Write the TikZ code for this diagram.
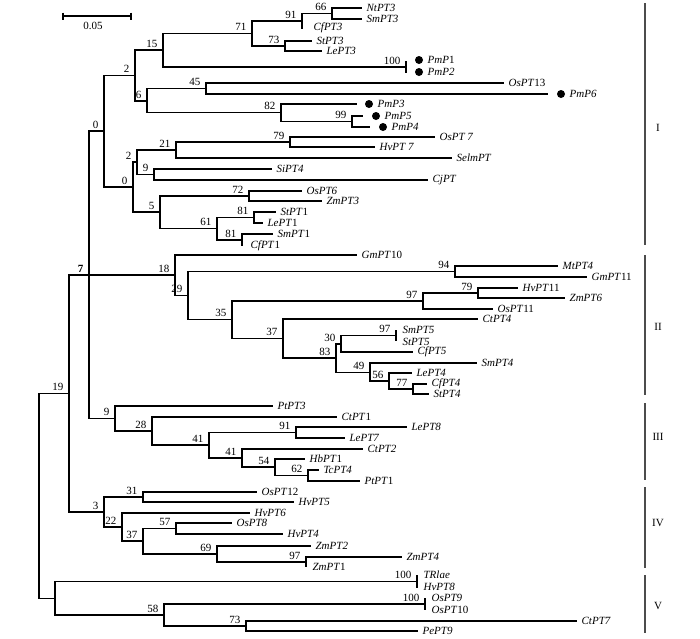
\documentclass[tikz,border=0pt]{standalone}
\usepackage{fontspec}
\setmainfont{Liberation Serif}
\begin{document}
\begin{tikzpicture}[x=1pt,y=-1pt,line width=1.25pt]
\tikzstyle{every node}=[font=\fontsize{11}{12}\selectfont]
\tikzstyle{taxon}=[anchor=west, inner xsep=4pt, inner ysep=0pt]
\tikzstyle{boot}=[anchor=south east, inner sep=1pt, xshift=-4pt, yshift=1pt]
\tikzstyle{pm}=[circle, fill=black, inner sep=0pt, minimum size=8pt]
\tikzstyle{bar}=[draw=black!70, line width=1.6pt]

\useasboundingbox (0,0) rectangle (700,638);

% scale bar
\coordinate (sa) at (63,16);
\coordinate (sb) at (131,16);
\draw (sa) -- (sb);
\draw ([yshift=3.5pt]sa) -- ([yshift=-3.5pt]sa);
\draw ([yshift=3.5pt]sb) -- ([yshift=-3.5pt]sb);
\node (scale) at (93,26) {0.05};

% inner vertices and bootstrap values
\coordinate (root) at (39,496);
\coordinate (nV) at (55,598.5);
\coordinate (n19) at (69,393.5);   \node[boot] (l19) at (n19) {19};
\coordinate (n7) at (89,275);      \node[boot] (l7) at (n7) {\textbf{7}};
\coordinate (n0a) at (104,131);    \node[boot] (l0a) at (n0a) {0};
\coordinate (n2a) at (135,75.5);   \node[boot] (l2a) at (n2a) {2};
\coordinate (n15) at (163,50);     \node[boot] (l15) at (n15) {15};
\coordinate (n71) at (252,33.5);   \node[boot] (l71) at (n71) {71};
\coordinate (n91a) at (302,21);    \node[boot] (l91a) at (n91a) {91};
\coordinate (n66) at (332,13.5);   \node[boot] (l66) at (n66) {66};
\coordinate (n73a) at (285,46);    \node[boot] (l73a) at (n73a) {73};
\coordinate (n100a) at (406,67);   \node[boot] (l100a) at (n100a) {100};
\coordinate (n6) at (147,101);     \node[boot] (l6) at (n6) {6};
\coordinate (n45) at (206,88.5);   \node[boot] (l45) at (n45) {45};
\coordinate (n82) at (281,112.5);  \node[boot] (l82) at (n82) {82};
\coordinate (n99) at (352,121.5);  \node[boot] (l99) at (n99) {99};
\coordinate (n0b) at (133,187);    \node[boot] (l0b) at (n0b) {0};
\coordinate (n2b) at (137,162);    \node[boot] (l2b) at (n2b) {2};
\coordinate (n21) at (176,150);    \node[boot] (l21) at (n21) {21};
\coordinate (n79a) at (290,142);   \node[boot] (l79a) at (n79a) {79};
\coordinate (n9a) at (154,174.5);  \node[boot] (l9a) at (n9a) {9};
\coordinate (n5) at (160,212);     \node[boot] (l5) at (n5) {5};
\coordinate (n72) at (249,196);    \node[boot] (l72) at (n72) {72};
\coordinate (n61) at (217,228.5);  \node[boot] (l61) at (n61) {61};
\coordinate (n81a) at (254,217.5); \node[boot] (l81a) at (n81a) {81};
\coordinate (n81b) at (242,240);   \node[boot] (l81b) at (n81b) {81};
\coordinate (n18) at (175,275);    \node[boot] (l18) at (n18) {18};
\coordinate (n29) at (188,295.5);  \node[boot] (l29) at (n29) {29};
\coordinate (n94) at (455,271.5);  \node[boot] (l94) at (n94) {94};
\coordinate (n35) at (232,319.5);  \node[boot] (l35) at (n35) {35};
\coordinate (n97a) at (423,301);   \node[boot] (l97a) at (n97a) {97};
\coordinate (n79b) at (478,293);   \node[boot] (l79b) at (n79b) {79};
\coordinate (n37a) at (283,338.5); \node[boot] (l37a) at (n37a) {37};
\coordinate (n83) at (336,358);    \node[boot] (l83) at (n83) {83};
\coordinate (n30) at (341,344);    \node[boot] (l30) at (n30) {30};
\coordinate (n97b) at (396,335.5); \node[boot] (l97b) at (n97b) {97};
\coordinate (n49) at (370,372.5);  \node[boot] (l49) at (n49) {49};
\coordinate (n56) at (389,381);    \node[boot] (l56) at (n56) {56};
\coordinate (n77) at (413,389);    \node[boot] (l77) at (n77) {77};
\coordinate (n9c) at (115,418.5);  \node[boot] (l9c) at (n9c) {9};
\coordinate (n28) at (152,431);    \node[boot] (l28) at (n28) {28};
\coordinate (n41a) at (209,445);   \node[boot] (l41a) at (n41a) {41};
\coordinate (n91b) at (296,432.5); \node[boot] (l91b) at (n91b) {91};
\coordinate (n41b) at (242,458);   \node[boot] (l41b) at (n41b) {41};
\coordinate (n54) at (275,467);    \node[boot] (l54) at (n54) {54};
\coordinate (n62) at (308,475.5);  \node[boot] (l62) at (n62) {62};
\coordinate (n3) at (104,512);     \node[boot] (l3) at (n3) {3};
\coordinate (n31) at (143,497);    \node[boot] (l31) at (n31) {31};
\coordinate (n22) at (122,527);    \node[boot] (l22) at (n22) {22};
\coordinate (n37b) at (143,541);   \node[boot] (l37b) at (n37b) {37};
\coordinate (n57) at (176,528.5);  \node[boot] (l57) at (n57) {57};
\coordinate (n69) at (217,554);    \node[boot] (l69) at (n69) {69};
\coordinate (n97c) at (306,562);   \node[boot] (l97c) at (n97c) {97};
\coordinate (n100c) at (417,581.5); \node[boot] (l100c) at (n100c) {100};
\coordinate (n58) at (164,615);    \node[boot] (l58) at (n58) {58};
\coordinate (n100d) at (425,604);  \node[boot] (l100d) at (n100d) {100};
\coordinate (n73b) at (246,626);   \node[boot] (l73b) at (n73b) {73};

% zero length tips
\coordinate (tCfPT3) at (302,29);
\coordinate (tPmP1) at (406,61);
\coordinate (tPmP2) at (406,73);
\coordinate (tCfPT1) at (242,246);
\coordinate (tSmPT5) at (396,330);
\coordinate (tStPT5) at (396,341);
\coordinate (tZmPT1) at (306,567);
\coordinate (tTRlae) at (417,575);
\coordinate (tHvPT8) at (417,588);
\coordinate (tOsPT9) at (425,598);
\coordinate (tOsPT10) at (425,610);
\coordinate (ePmP6) at (548,94);
\coordinate (ePmP3) at (357,104);
\coordinate (ePmP5) at (363,116);
\coordinate (ePmP4) at (370,127);

% taxa, group I
\node[taxon] (NtPT3) at (362,8) {\textit{NtPT3}};
\node[taxon] (SmPT3) at (362,19) {\textit{SmPT3}};
\node[taxon] (CfPT3) at (309,28) {\textit{CfPT3}};
\node[taxon] (StPT3) at (312,41) {\textit{StPT3}};
\node[taxon] (LePT3) at (322,51) {\textit{LePT3}};
\node[pm] (dPmP1) at (419,60) {};
\node[taxon] (PmP1) at (423,60) {\textit{PmP}1};
\node[pm] (dPmP2) at (419,72) {};
\node[taxon] (PmP2) at (423,72) {\textit{PmP2}};
\node[taxon] (OsPT13) at (504,83) {\textit{OsPT}13};
\node[pm] (dPmP6) at (561,94) {};
\node[taxon] (PmP6) at (565,94) {\textit{PmP6}};
\node[pm] (dPmP3) at (369,104) {};
\node[taxon] (PmP3) at (373,104) {\textit{PmP3}};
\node[pm] (dPmP5) at (376,116) {};
\node[taxon] (PmP5) at (380,116) {\textit{PmP5}};
\node[pm] (dPmP4) at (383,127) {};
\node[taxon] (PmP4) at (387,127) {\textit{PmP4}};
\node[taxon] (OsPT7) at (435,137) {\textit{OsPT 7}};
\node[taxon] (HvPT7) at (375,147) {\textit{HvPT 7}};
\node[taxon] (SelmPT) at (452,158) {\textit{SelmPT}};
\node[taxon] (SiPT4) at (272,169) {\textit{SiPT4}};
\node[taxon] (CjPT) at (428,180) {\textit{CjPT}};
\node[taxon] (OsPT6) at (302,191) {\textit{OsPT6}};
\node[taxon] (ZmPT3) at (322,201) {\textit{ZmPT3}};
\node[taxon] (StPT1) at (276,212) {\textit{StPT}1};
\node[taxon] (LePT1) at (263,223) {\textit{LePT}1};
\node[taxon] (SmPT1) at (273,234) {\textit{SmPT}1};
\node[taxon] (CfPT1) at (246,246) {\textit{CfPT}1};

% taxa, group II
\node[taxon] (GmPT10) at (357,255) {\textit{GmPT}10};
\node[taxon] (MtPT4) at (558,266) {\textit{MtPT4}};
\node[taxon] (GmPT11) at (587,277) {\textit{GmPT}11};
\node[taxon] (HvPT11) at (518,288) {\textit{HvPT}11};
\node[taxon] (ZmPT6) at (565,298) {\textit{ZmPT6}};
\node[taxon] (OsPT11) at (493,309) {\textit{OsPT}11};
\node[taxon] (CtPT4) at (478,319) {\textit{CtPT4}};
\node[taxon] (SmPT5) at (398,330) {\textit{SmPT5}};
\node[taxon] (StPT5) at (398,342) {\textit{StPT5}};
\node[taxon] (CfPT5) at (413,352) {\textit{CfPT5}};
\node[taxon] (SmPT4) at (477,363) {\textit{SmPT4}};
\node[taxon] (LePT4) at (412,373) {\textit{LePT4}};
\node[taxon] (CfPT4) at (427,384) {\textit{CfPT4}};
\node[taxon] (StPT4) at (429,394) {\textit{StPT4}};

% taxa, group III
\node[taxon] (PtPT3) at (273,406) {\textit{PtPT3}};
\node[taxon] (CtPT1) at (337,417) {\textit{CtPT}1};
\node[taxon] (LePT8) at (407,427) {\textit{LePT8}};
\node[taxon] (LePT7) at (345,438) {\textit{LePT7}};
\node[taxon] (CtPT2) at (363,449) {\textit{CtPT2}};
\node[taxon] (HbPT1) at (305,459) {\textit{HbPT}1};
\node[taxon] (TcPT4) at (319,470) {\textit{TcPT4}};
\node[taxon] (PtPT1) at (360,481) {\textit{PtPT}1};

% taxa, group IV
\node[taxon] (OsPT12) at (257,492) {\textit{OsPT}12};
\node[taxon] (HvPT5) at (294,502) {\textit{HvPT5}};
\node[taxon] (HvPT6) at (250,513) {\textit{HvPT6}};
\node[taxon] (OsPT8) at (232,523) {\textit{OsPT8}};
\node[taxon] (HvPT4) at (283,534) {\textit{HvPT4}};
\node[taxon] (ZmPT2) at (311,546) {\textit{ZmPT2}};
\node[taxon] (ZmPT4) at (402,557) {\textit{ZmPT4}};
\node[taxon] (ZmPT1) at (308,567) {\textit{ZmPT}1};

% taxa, group V
\node[taxon] (TRlae) at (419,575) {\textit{TRlae}};
\node[taxon] (HvPT8) at (419,587) {\textit{HvPT8}};
\node[taxon] (OsPT9) at (427,598) {\textit{OsPT9}};
\node[taxon] (OsPT10) at (427,610) {\textit{OsPT}10};
\node[taxon] (CtPT7) at (577,621) {\textit{CtPT7}};
\node[taxon] (PePT9) at (418,631) {\textit{PePT9}};

% branches
\draw (root) |- (n19);
\draw (root) |- (nV);
\draw (n19) |- (n7);
\draw (n19) |- (n3);
\draw (n7) |- (n0a);
\draw (n7) |- (n18);
\draw (n7) |- (n9c);
\draw (n0a) |- (n2a);
\draw (n0a) |- (n0b);
\draw (n2a) |- (n15);
\draw (n2a) |- (n6);
\draw (n15) |- (n71);
\draw (n15) |- (n100a);
\draw (n71) |- (n91a);
\draw (n71) |- (n73a);
\draw (n91a) |- (n66);
\draw (n91a) |- (tCfPT3);
\draw (n66) |- (NtPT3.west);
\draw (n66) |- (SmPT3.west);
\draw (n73a) |- (StPT3.west);
\draw (n73a) |- (LePT3.west);
\draw (n100a) |- (tPmP1);
\draw (n100a) |- (tPmP2);
\draw (n6) |- (n45);
\draw (n6) |- (n82);
\draw (n45) |- (OsPT13.west);
\draw (n45) |- (ePmP6);
\draw (n82) |- (ePmP3);
\draw (n82) |- (n99);
\draw (n99) |- (ePmP5);
\draw (n99) |- (ePmP4);
\draw (n0b) |- (n2b);
\draw (n0b) |- (n5);
\draw (n2b) |- (n21);
\draw (n2b) |- (n9a);
\draw (n21) |- (n79a);
\draw (n21) |- (SelmPT.west);
\draw (n79a) |- (OsPT7.west);
\draw (n79a) |- (HvPT7.west);
\draw (n9a) |- (SiPT4.west);
\draw (n9a) |- (CjPT.west);
\draw (n5) |- (n72);
\draw (n5) |- (n61);
\draw (n72) |- (OsPT6.west);
\draw (n72) |- (ZmPT3.west);
\draw (n61) |- (n81a);
\draw (n61) |- (n81b);
\draw (n81a) |- (StPT1.west);
\draw (n81a) |- (LePT1.west);
\draw (n81b) |- (SmPT1.west);
\draw (n81b) |- (tCfPT1);

\draw (n18) |- (GmPT10.west);
\draw (n18) |- (n29);
\draw (n29) |- (n94);
\draw (n29) |- (n35);
\draw (n94) |- (MtPT4.west);
\draw (n94) |- (GmPT11.west);
\draw (n35) |- (n97a);
\draw (n35) |- (n37a);
\draw (n97a) |- (n79b);
\draw (n97a) |- (OsPT11.west);
\draw (n79b) |- (HvPT11.west);
\draw (n79b) |- (ZmPT6.west);
\draw (n37a) |- (CtPT4.west);
\draw (n37a) |- (n83);
\draw (n83) |- (n30);
\draw (n83) |- (n49);
\draw (n30) |- (n97b);
\draw (n30) |- (CfPT5.west);
\draw (n97b) |- (tSmPT5);
\draw (n97b) |- (tStPT5);
\draw (n49) |- (SmPT4.west);
\draw (n49) |- (n56);
\draw (n56) |- (LePT4.west);
\draw (n56) |- (n77);
\draw (n77) |- (CfPT4.west);
\draw (n77) |- (StPT4.west);

\draw (n9c) |- (PtPT3.west);
\draw (n9c) |- (n28);
\draw (n28) |- (CtPT1.west);
\draw (n28) |- (n41a);
\draw (n41a) |- (n91b);
\draw (n41a) |- (n41b);
\draw (n91b) |- (LePT8.west);
\draw (n91b) |- (LePT7.west);
\draw (n41b) |- (CtPT2.west);
\draw (n41b) |- (n54);
\draw (n54) |- (HbPT1.west);
\draw (n54) |- (n62);
\draw (n62) |- (TcPT4.west);
\draw (n62) |- (PtPT1.west);

\draw (n3) |- (n31);
\draw (n3) |- (n22);
\draw (n31) |- (OsPT12.west);
\draw (n31) |- (HvPT5.west);
\draw (n22) |- (HvPT6.west);
\draw (n22) |- (n37b);
\draw (n37b) |- (n57);
\draw (n37b) |- (n69);
\draw (n57) |- (OsPT8.west);
\draw (n57) |- (HvPT4.west);
\draw (n69) |- (ZmPT2.west);
\draw (n69) |- (n97c);
\draw (n97c) |- (ZmPT4.west);
\draw (n97c) |- (tZmPT1);

\draw (nV) |- (n100c);
\draw (nV) |- (n58);
\draw (n100c) |- (tTRlae);
\draw (n100c) |- (tHvPT8);
\draw (n58) |- (n100d);
\draw (n58) |- (n73b);
\draw (n100d) |- (tOsPT9);
\draw (n100d) |- (tOsPT10);
\draw (n73b) |- (CtPT7.west);
\draw (n73b) |- (PePT9.west);

% groups
\draw[bar] (645,3) -- (645,245);
\draw[bar] (645,255) -- (645,395);
\draw[bar] (645,403) -- (645,480);
\draw[bar] (645,487) -- (645,568);
\draw[bar] (645,575) -- (645,633);
\node (gI) at (658,128) {I};
\node (gII) at (658,327) {II};
\node (gIII) at (658,437) {III};
\node (gIV) at (658,523) {IV};
\node (gV) at (658,606) {V};
\end{tikzpicture}
\end{document}
